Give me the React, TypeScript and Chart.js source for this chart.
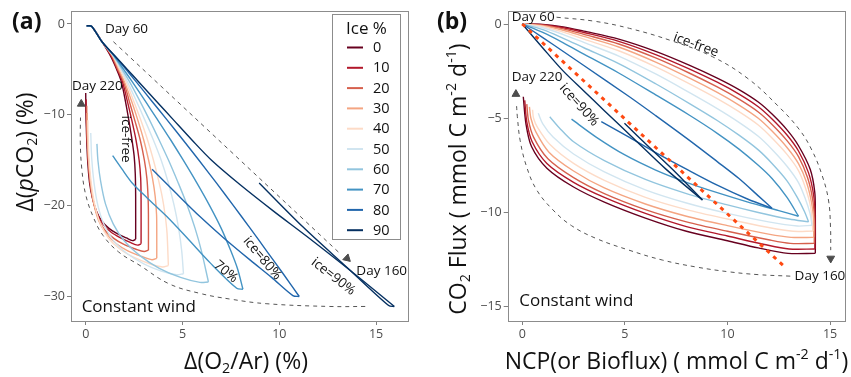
import React, { useEffect, useRef } from 'react';
import { Chart, registerables } from 'chart.js';
Chart.register(...registerables);

type P = [number, number];

const FONT = "'Open Sans', sans-serif";

const ICE_LEVELS = ['0', '10', '20', '30', '40', '50', '60', '70', '80', '90'];
const ICE_COLORS = ['#67001f', '#b2182b', '#d6604d', '#f4a582', '#fddbc7', '#d1e5f0', '#92c5de', '#4393c3', '#2166ac', '#053061'];

const A_X_TICKS = [0, 5, 10, 15];
const A_Y_TICKS = [0, -10, -20, -30];
const B_X_TICKS = [0, 5, 10, 15];
const B_Y_TICKS = [0, -5, -10, -15];

// Panel (a): Day 60 -> Day 160 branch, per ice level
const A_UPPER: P[][] = [
  [[0.05, -0.2], [0.3, -0.25], [0.84, -1.95], [1.3, -3.6], [1.6, -5.0], [1.84, -6.35], [2.05, -8.5], [2.22, -10.5], [2.38, -12.6], [2.5, -14.5], [2.56, -16.5], [2.58, -19], [2.58, -23.7]],
  [[0.05, -0.2], [0.3, -0.25], [0.84, -1.95], [1.32, -3.55], [1.63, -5.0], [1.9, -6.35], [2.15, -8.5], [2.37, -10.5], [2.6, -12.8], [2.76, -15], [2.84, -17], [2.86, -19.5], [2.86, -24.2]],
  [[0.05, -0.2], [0.3, -0.25], [0.84, -1.95], [1.35, -3.5], [1.66, -5.0], [1.96, -6.35], [2.25, -8.5], [2.52, -10.5], [2.82, -12.8], [3.03, -15], [3.16, -17], [3.22, -19], [3.24, -21], [3.24, -24.9]],
  [[0.05, -0.2], [0.3, -0.25], [0.84, -1.95], [1.38, -3.5], [1.71, -5.0], [2.0, -6.35], [2.37, -8.5], [2.68, -10.5], [3.0, -12.8], [3.25, -15], [3.45, -17], [3.59, -19], [3.66, -21], [3.67, -23], [3.67, -25.8]],
  [[0.05, -0.2], [0.3, -0.25], [0.84, -1.95], [1.41, -3.5], [1.76, -5.0], [2.08, -6.35], [2.48, -8.5], [2.83, -10.5], [3.2, -12.8], [3.5, -15], [3.74, -17], [3.95, -19], [4.1, -21], [4.2, -23], [4.27, -26.6]],
  [[0.05, -0.2], [0.3, -0.25], [0.84, -1.95], [1.42, -3.5], [1.82, -5.0], [2.15, -6.35], [2.62, -8.5], [3.04, -10.5], [3.5, -12.8], [3.9, -15], [4.27, -17.5], [4.57, -20], [4.8, -22.5], [4.96, -25], [5.05, -27.5]],
  [[0.05, -0.2], [0.3, -0.25], [0.84, -1.95], [1.44, -3.5], [1.88, -5.0], [2.26, -6.35], [2.8, -8.5], [3.28, -10.5], [3.8, -12.8], [4.28, -15], [4.78, -17.5], [5.25, -20], [5.65, -22.5], [5.98, -25], [6.34, -28.4]],
  [[0.05, -0.2], [0.3, -0.25], [0.84, -1.95], [1.46, -3.5], [1.96, -5.0], [2.4, -6.35], [3.08, -8.5], [3.7, -10.5], [4.4, -12.8], [5.04, -15], [5.74, -17.5], [6.4, -20], [7.0, -22.5], [7.5, -25], [7.85, -27], [8.12, -29.2]],
  [[0.05, -0.2], [0.3, -0.25], [0.84, -1.95], [1.49, -3.5], [2.08, -5.0], [2.6, -6.35], [3.42, -8.5], [4.18, -10.5], [5.04, -12.8], [5.85, -15], [6.75, -17.5], [7.63, -20], [8.5, -22.5], [9.35, -25], [10.2, -27.5], [11.03, -30.0]],
  [[0.05, -0.2], [0.3, -0.25], [0.84, -1.95], [1.5, -3.5], [2.15, -5.0], [2.73, -6.35], [3.65, -8.5], [4.51, -10.5], [5.5, -12.8], [6.5, -15], [7.98, -17.7], [9.7, -20.6], [11.43, -23.4], [13.7, -27.2], [15.94, -31.1]],
];

// Panel (a): Day 160 -> Day 220 branch
const A_LOWER: P[][] = [
  [[2.58, -23.7], [2.42, -23.85], [2.1, -23.55], [1.6, -23.05], [1.2, -22.5], [0.8, -21.6], [0.55, -20.6], [0.35, -19.2], [0.2, -17.5], [0.1, -15], [0.04, -12], [0.01, -9.5], [0, -7.6]],
  [[2.86, -24.2], [2.68, -24.35], [2.3, -24.05], [1.8, -23.55], [1.3, -22.9], [0.88, -22.0], [0.58, -20.8], [0.35, -19.1], [0.2, -16.8], [0.1, -13.8], [0.04, -10.8], [0.02, -8.3]],
  [[3.24, -24.9], [3.02, -25.05], [2.6, -24.8], [2.0, -24.3], [1.45, -23.6], [0.95, -22.6], [0.62, -21.2], [0.38, -19.4], [0.21, -17.0], [0.11, -14.0], [0.06, -11.2], [0.05, -9.0]],
  [[3.67, -25.8], [3.42, -25.95], [2.9, -25.6], [2.2, -25.0], [1.58, -24.2], [1.03, -23.0], [0.66, -21.6], [0.41, -19.7], [0.24, -17.3], [0.13, -14.5], [0.08, -11.6], [0.07, -9.8]],
  [[4.27, -26.6], [3.97, -26.75], [3.3, -26.4], [2.5, -25.7], [1.78, -24.8], [1.18, -23.6], [0.76, -22.0], [0.48, -20.0], [0.29, -17.6], [0.17, -14.8], [0.12, -12.0], [0.11, -10.6]],
  [[5.05, -27.5], [4.7, -27.6], [3.9, -27.2], [3.0, -26.4], [2.15, -25.3], [1.45, -23.9], [0.95, -22.1], [0.63, -20.0], [0.43, -17.5], [0.31, -14.8], [0.26, -12.0]],
  [[6.34, -28.4], [5.9, -28.45], [4.9, -27.9], [3.8, -26.9], [2.8, -25.5], [2.0, -23.9], [1.42, -22.0], [1.02, -19.8], [0.77, -17.3], [0.63, -15.0], [0.58, -13.2]],
  [[8.12, -29.2], [7.8, -29.1], [6.43, -26.3], [5.3, -23.7], [4.19, -21.2], [3.2, -19.2], [2.4, -17.5], [1.85, -15.9], [1.39, -14.5]],
  [[11.03, -30.0], [10.7, -29.9], [9.6, -27.9], [8.5, -26.0], [7.1, -23.5], [5.9, -21.2], [4.7, -18.7], [3.43, -16.0]],
  [[15.94, -31.1], [15.65, -31.0], [13.5, -26.8], [11.2, -22.3], [8.96, -17.5]],
];

// Panel (b): Day 60 -> Day 160 branch
const B_UPPER: P[][] = [
  [[0, 0], [1, -0.02], [2, -0.15], [3, -0.38], [4.7, -0.8], [6.5, -1.45], [8.13, -2.18], [9.5, -2.87], [10.56, -3.48], [11.5, -4.14], [12.17, -4.78], [12.9, -5.62], [13.46, -6.46], [14.03, -7.71], [14.25, -8.9], [14.28, -10], [14.28, -12.17]],
  [[0, 0], [1, -0.04], [2, -0.2], [3, -0.45], [4.7, -0.92], [6.5, -1.62], [8.13, -2.38], [9.5, -3.09], [10.56, -3.72], [11.5, -4.39], [12.17, -5.04], [12.9, -5.89], [13.46, -6.74], [13.95, -7.9], [14.2, -9.1], [14.26, -10.2], [14.26, -11.94]],
  [[0, 0], [1, -0.06], [2, -0.26], [3, -0.55], [4.7, -1.06], [6.5, -1.8], [8.13, -2.6], [9.5, -3.34], [10.56, -3.99], [11.5, -4.67], [12.17, -5.33], [12.9, -6.19], [13.46, -7.04], [13.9, -8.15], [14.15, -9.3], [14.23, -10.3], [14.23, -11.64]],
  [[0, 0], [1, -0.09], [2, -0.33], [3, -0.66], [4.7, -1.22], [6.5, -2.02], [8.13, -2.86], [9.5, -3.63], [10.56, -4.3], [11.5, -5.0], [12.17, -5.68], [12.9, -6.55], [13.46, -7.41], [13.85, -8.4], [14.1, -9.5], [14.2, -10.4], [14.2, -11.32]],
  [[0, 0], [1, -0.13], [2, -0.43], [3, -0.8], [4.7, -1.42], [6.5, -2.27], [8.13, -3.16], [9.5, -3.96], [10.56, -4.65], [11.5, -5.36], [12.17, -6.05], [12.9, -6.92], [13.46, -7.78], [13.8, -8.7], [14.05, -9.7], [14.16, -10.99]],
  [[0, 0], [1, -0.2], [2, -0.56], [3, -0.98], [4.7, -1.7], [6.5, -2.65], [8.13, -3.63], [9.5, -4.49], [10.56, -5.22], [11.5, -5.96], [12.17, -6.66], [12.9, -7.55], [13.46, -8.42], [13.8, -9.3], [14.02, -10.05], [14.12, -10.68]],
  [[0, 0], [1, -0.3], [2, -0.76], [3, -1.26], [4.7, -2.1], [6.5, -3.17], [8.13, -4.21], [9.5, -5.12], [10.56, -5.9], [11.5, -6.68], [12.17, -7.4], [12.9, -8.32], [13.4, -9.2], [13.75, -9.95], [13.95, -10.5]],
  [[0, 0], [1, -0.45], [2, -1.0], [3, -1.6], [4.7, -2.6], [6.5, -3.76], [8.13, -4.83], [9.5, -5.8], [10.56, -6.64], [11.5, -7.5], [12.17, -8.2], [12.9, -9.2], [13.46, -10.2]],
  [[0, 0], [1, -0.72], [2, -1.46], [3, -2.2], [5.22, -3.86], [6.5, -4.86], [8.13, -6.16], [9.5, -7.3], [10.56, -8.2], [11.5, -9.12], [12.17, -9.78]],
  [[0, 0], [1, -1.27], [2, -2.5], [3, -3.55], [4, -4.6], [5.45, -6.1], [7, -7.7], [8.78, -9.34]],
];

// Panel (b): Day 160 -> Day 220 branch
const B_LOWER: P[][] = [
  [[14.28, -12.17], [12.95, -12.17], [11.5, -11.88], [10, -11.5], [8, -11.0], [6, -10.3], [4, -9.45], [2.5, -8.65], [1.2, -7.65], [0.45, -6.5], [0.18, -5.3], [0.05, -3.86]],
  [[14.26, -11.94], [13.0, -11.94], [11.8, -11.7], [10, -11.25], [8, -10.75], [6, -10.05], [4, -9.2], [2.5, -8.4], [1.2, -7.4], [0.48, -6.25], [0.22, -5.2], [0.12, -4.05]],
  [[14.23, -11.64], [13.05, -11.64], [12, -11.45], [10, -11.0], [8, -10.5], [6, -9.85], [4, -9.0], [2.5, -8.15], [1.25, -7.15], [0.55, -6.0], [0.3, -5.1], [0.22, -4.25]],
  [[14.2, -11.32], [13.1, -11.32], [12, -11.15], [10, -10.7], [8, -10.2], [6, -9.55], [4, -8.7], [2.5, -7.8], [1.3, -6.8], [0.65, -5.7], [0.42, -5.0], [0.35, -4.4]],
  [[14.16, -10.99], [13.2, -11.0], [12, -10.8], [10, -10.35], [8, -9.85], [6, -9.2], [4, -8.3], [2.5, -7.4], [1.35, -6.4], [0.75, -5.5], [0.55, -5.0], [0.5, -4.55]],
  [[14.12, -10.68], [13.4, -10.72], [12, -10.5], [10, -10.05], [8, -9.5], [6, -8.8], [4, -7.85], [2.5, -6.9], [1.5, -6.0], [1.0, -5.3], [0.78, -4.74]],
  [[13.95, -10.5], [13, -10.35], [11.5, -10.0], [10, -9.6], [8, -9.0], [6, -8.25], [4, -7.25], [2.5, -6.25], [1.8, -5.5], [1.34, -4.92]],
  [[13.46, -10.2], [12.5, -9.9], [11, -9.45], [9.5, -8.95], [8, -8.4], [6.5, -7.75], [5, -6.95], [3.6, -6.0], [2.4, -5.05]],
  [[12.17, -9.78], [11, -9.3], [9.5, -8.55], [8, -7.7], [6.5, -6.82], [5.2, -6.0], [3.85, -5.18]],
  [[8.78, -9.34], [7.5, -7.9], [6.2, -6.55], [4.98, -5.27]],
];

const B_ONE_TO_ONE: P[] = [[0, 0], [12.7, -12.8]];

// Dashed guide arrows
const A_GUIDE_TOP: P[] = [[1.43, -1.95], [13.15, -25.3]];
const A_GUIDE_BOTTOM: P[] = [[14.44, -31.1], [12.6, -31.1], [9.36, -30.8], [7.5, -30.3], [5.9, -29.66], [4.3, -28.6], [2.81, -26.6], [1.7, -25.1], [0.9, -23.3], [0.4, -21.3], [0.0, -18.8], [-0.2, -16], [-0.28, -13], [-0.27, -10.3]];
const A_ARROWS: P[] = [[13.5, -25.8], [-0.23, -8.8]];
const A_ARROW_ROT = [133, 0];
const B_GUIDE_TOP: P[] = [[1.67, 0.36], [3.5, 0.15], [5.22, -0.23], [7.3, -0.9], [9.26, -1.73], [11, -2.9], [12.5, -4.39], [13.5, -5.6], [14.11, -6.69], [14.6, -8.0], [14.92, -9.34], [15.02, -10.8], [15.03, -12.0]];
const B_GUIDE_BOTTOM: P[] = [[13.06, -13.38], [11.5, -13.3], [10.07, -13.15], [8.5, -12.9], [6.84, -12.53], [5.2, -12.0], [3.6, -11.38], [2.4, -10.7], [1.5, -9.87], [0.7, -8.8], [0.21, -7.57], [-0.1, -6.2], [-0.24, -4.92], [-0.28, -4.3]];
const B_ARROWS: P[] = [[15.03, -12.44], [-0.31, -3.72]];
const B_ARROW_ROT = [180, 0];

type Seg = { t: string; k?: 'sub' | 'sup' | 'it' };
type Note = { text: string; x: number; y: number; size: number; rot: number; align: 'left' | 'center' };

const A_NOTES: Note[] = [
  { text: 'Day 60', x: 1.0, y: -0.55, size: 13.5, rot: 0, align: 'left' },
  { text: 'Day 220', x: -0.71, y: -6.83, size: 13.5, rot: 0, align: 'left' },
  { text: 'Day 160', x: 13.98, y: -27.2, size: 13.5, rot: 0, align: 'left' },
  { text: 'Constant wind', x: -0.21, y: -31.13, size: 17, rot: 0, align: 'left' },
  { text: 'ice-free', x: 2.08, y: -12.67, size: 13.5, rot: 90, align: 'center' },
  { text: '70%', x: 7.24, y: -27.28, size: 13.5, rot: 40, align: 'center' },
  { text: 'ice=80%', x: 9.12, y: -25.8, size: 13.5, rot: 50, align: 'center' },
  { text: 'ice=90%', x: 12.79, y: -27.83, size: 13.5, rot: 38, align: 'center' },
];
const B_NOTES: Note[] = [
  { text: 'Day 60', x: -0.51, y: 0.36, size: 13.5, rot: 0, align: 'left' },
  { text: 'Day 220', x: -0.51, y: -2.8, size: 13.5, rot: 0, align: 'left' },
  { text: 'Day 160', x: 13.27, y: -13.38, size: 13.5, rot: 0, align: 'left' },
  { text: 'Constant wind', x: -0.15, y: -14.7, size: 17, rot: 0, align: 'left' },
  { text: 'ice-free', x: 8.46, y: -1.11, size: 13.5, rot: 20, align: 'center' },
  { text: 'ice=90%', x: 2.77, y: -4.3, size: 13.5, rot: 48, align: 'center' },
];

const A_XTITLE: Seg[] = [{ t: 'Δ(O' }, { t: '2', k: 'sub' }, { t: '/Ar) (%)' }];
const A_YTITLE: Seg[] = [{ t: 'Δ(' }, { t: 'p', k: 'it' }, { t: 'CO' }, { t: '2', k: 'sub' }, { t: ') (%)' }];
const B_XTITLE: Seg[] = [{ t: 'NCP(or Bioflux) ( mmol C m' }, { t: '-2', k: 'sup' }, { t: ' d' }, { t: '-1', k: 'sup' }, { t: ')' }];
const B_YTITLE: Seg[] = [{ t: 'CO' }, { t: '2', k: 'sub' }, { t: ' Flux ( mmol C m' }, { t: '-2', k: 'sup' }, { t: ' d' }, { t: '-1', k: 'sup' }, { t: ')' }];

const TITLE_SIZE = 23;

function drawRich(ctx: CanvasRenderingContext2D, segs: Seg[], cx: number, cy: number, size: number, rot: number) {
  ctx.save();
  ctx.translate(cx, cy);
  ctx.rotate(rot);
  const fontFor = (k?: string) => (k === 'it' ? 'italic ' : '') + (k === 'sub' || k === 'sup' ? size * 0.62 : size) + 'px ' + FONT;
  let total = 0;
  segs.forEach((s) => { ctx.font = fontFor(s.k); total += ctx.measureText(s.t).width; });
  let x = -total / 2;
  ctx.textBaseline = 'middle';
  ctx.textAlign = 'left';
  ctx.fillStyle = '#111';
  segs.forEach((s) => {
    ctx.font = fontFor(s.k);
    const dy = s.k === 'sub' ? size * 0.3 : s.k === 'sup' ? -size * 0.32 : 0;
    ctx.fillText(s.t, x, dy);
    x += ctx.measureText(s.t).width;
  });
  ctx.restore();
}

const pts = (a: P[]) => a.map(([x, y]) => ({ x, y }));
const fmt = (v: number) => (v < 0 ? '\u2212' + Math.abs(v) : String(v));

function seriesDatasets(upper: P[][], lower: P[][]) {
  const ds: any[] = [];
  ICE_LEVELS.forEach((lvl, i) => {
    [upper[i], lower[i]].forEach((arr, j) => {
      ds.push({
        label: lvl + '%' + (j ? ' return' : ''),
        data: pts(arr),
        showLine: true,
        borderColor: ICE_COLORS[i],
        backgroundColor: ICE_COLORS[i],
        borderWidth: 1.4,
        pointRadius: 0,
        tension: 0.3,
        order: 100 - i,
      });
    });
  });
  return ds;
}

function guide(arr: P[]) {
  return { data: pts(arr), showLine: true, borderColor: '#555', borderWidth: 1, borderDash: [4, 4], pointRadius: 0, tension: 0.4, order: 2 };
}
function arrows(arr: P[], rot: number[]) {
  return { data: pts(arr), showLine: false, pointStyle: 'triangle', pointRadius: 4.5, pointRotation: rot, backgroundColor: '#4d4d4d', borderColor: '#4d4d4d', borderWidth: 1, order: 1 };
}

function scaleOpts(min: number, max: number, ticks: number[], fit: (s: any) => void) {
  return {
    type: 'linear',
    min,
    max,
    afterBuildTicks: (s: any) => { s.ticks = ticks.map((v) => ({ value: v })); },
    afterFit: fit,
    grid: { display: true, drawOnChartArea: false, drawTicks: true, tickLength: 4, tickColor: '#808080', color: '#808080' },
    border: { display: false },
    ticks: { font: { family: FONT, size: 12.5 }, color: '#4d4d4d', padding: 2, callback: (v: any) => fmt(Number(v)) },
  };
}

function panelPlugin(opts: { notes: Note[]; xTitle: Seg[]; yTitle: Seg[]; xT: [number, number]; yT: [number, number]; tag: string; legend: boolean }) {
  return {
    id: 'panelDecor',
    afterDraw(chart: any) {
      const ctx: CanvasRenderingContext2D = chart.ctx;
      const { left, top, right, bottom } = chart.chartArea;
      ctx.save();
      ctx.strokeStyle = '#8c8c8c';
      ctx.lineWidth = 1;
      ctx.strokeRect(Math.round(left) + 0.5, Math.round(top) + 0.5, Math.round(right - left) - 1, Math.round(bottom - top));
      const xs = chart.scales.x;
      const ys = chart.scales.y;
      ctx.fillStyle = '#111';
      opts.notes.forEach((n) => {
        const px = xs.getPixelForValue(n.x);
        const py = ys.getPixelForValue(n.y);
        ctx.save();
        ctx.translate(px, py);
        ctx.rotate((n.rot * Math.PI) / 180);
        ctx.font = n.size + 'px ' + FONT;
        ctx.textAlign = n.align;
        ctx.textBaseline = 'middle';
        ctx.fillText(n.text, 0, 0);
        ctx.restore();
      });
      drawRich(ctx, opts.xTitle, opts.xT[0], opts.xT[1], TITLE_SIZE, 0);
      drawRich(ctx, opts.yTitle, opts.yT[0], opts.yT[1], TITLE_SIZE, -Math.PI / 2);
      ctx.font = 'bold 23px ' + FONT;
      ctx.textAlign = 'left';
      ctx.textBaseline = 'middle';
      ctx.fillStyle = '#111';
      ctx.fillText(opts.tag, 12, 22);
      if (opts.legend) {
        ctx.strokeStyle = '#8c8c8c';
        ctx.strokeRect(332.5, 14.5, 68, 225);
        ctx.font = '17px ' + FONT;
        ctx.fillStyle = '#111';
        ctx.fillText('Ice %', 346, 29);
        ctx.font = '14.5px ' + FONT;
        ICE_LEVELS.forEach((lvl, i) => {
          const y = 47.5 + i * 20.3;
          ctx.strokeStyle = ICE_COLORS[i];
          ctx.lineWidth = 2;
          ctx.beginPath();
          ctx.moveTo(347, y);
          ctx.lineTo(363, y);
          ctx.stroke();
          ctx.fillStyle = '#111';
          ctx.fillText(lvl, 373, y + 0.5);
        });
      }
      ctx.restore();
    },
  };
}

function baseOptions(scales: any) {
  return {
    responsive: false,
    maintainAspectRatio: false,
    animation: false,
    events: [],
    plugins: { legend: { display: false }, tooltip: { enabled: false } },
    scales,
  };
}

export default function App() {
  const refA = useRef<HTMLCanvasElement>(null);
  const refB = useRef<HTMLCanvasElement>(null);
  useEffect(() => {
    const chartA = new Chart(refA.current as HTMLCanvasElement, {
      type: 'scatter',
      data: {
        datasets: [
          ...seriesDatasets(A_UPPER, A_LOWER),
          guide(A_GUIDE_TOP),
          guide(A_GUIDE_BOTTOM),
          arrows(A_ARROWS, A_ARROW_ROT),
        ],
      },
      options: {
        ...baseOptions({
          x: scaleOpts(-0.76, 16.7, A_X_TICKS, (s: any) => { s.height = 56; }),
          y: scaleOpts(-32.7, 1.43, A_Y_TICKS, (s: any) => { s.width = 71; }),
        }),
        layout: { padding: { left: 0, right: 16, top: 11, bottom: 0 } },
      } as any,
      plugins: [panelPlugin({ notes: A_NOTES, xTitle: A_XTITLE, yTitle: A_YTITLE, xT: [246, 362], yT: [26, 152], tag: '(a)', legend: true })],
    } as any);
    const chartB = new Chart(refB.current as HTMLCanvasElement, {
      type: 'scatter',
      data: {
        datasets: [
          ...seriesDatasets(B_UPPER, B_LOWER),
          { data: pts(B_ONE_TO_ONE), showLine: true, borderColor: '#ff4a12', borderWidth: 3, borderDash: [4, 5], pointRadius: 0, order: 0 },
          guide(B_GUIDE_TOP),
          guide(B_GUIDE_BOTTOM),
          arrows(B_ARROWS, B_ARROW_ROT),
        ],
      },
      options: {
        ...baseOptions({
          x: scaleOpts(-0.71, 15.75, B_X_TICKS, (s: any) => { s.height = 56; }),
          y: scaleOpts(-15.76, 0.69, B_Y_TICKS, (s: any) => { s.width = 82.7; }),
        }),
        layout: { padding: { left: 0, right: 4.3, top: 11, bottom: 0 } },
      } as any,
      plugins: [panelPlugin({ notes: B_NOTES, xTitle: B_XTITLE, yTitle: B_YTITLE, xT: [251.5, 362], yT: [34, 179], tag: '(b)', legend: false })],
    } as any);
    return () => { chartA.destroy(); chartB.destroy(); };
  }, []);
  return (
    <div style={{ position: 'absolute', left: 0, top: 0, width: 851, height: 377, background: '#fff' }}>
      <canvas ref={refA} width={425} height={377} style={{ position: 'absolute', left: 0, top: 0, width: 425, height: 377 }} />
      <canvas ref={refB} width={426} height={377} style={{ position: 'absolute', left: 425, top: 0, width: 426, height: 377 }} />
    </div>
  );
}
